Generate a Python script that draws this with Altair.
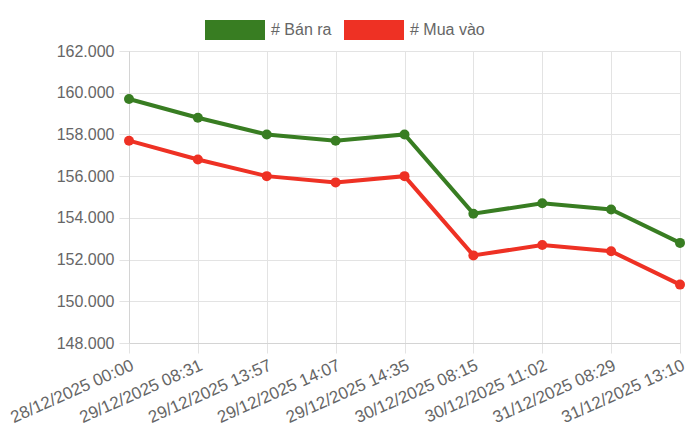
import altair as alt
import pandas as pd

times = ["28/12/2025 00:00", "29/12/2025 08:31", "29/12/2025 13:57", "29/12/2025 14:07",
         "29/12/2025 14:35", "30/12/2025 08:15", "30/12/2025 11:02", "31/12/2025 08:29",
         "31/12/2025 13:10"]
ban_ra = [159700, 158800, 158000, 157700, 158000, 154200, 154700, 154400, 152800]
mua_vao = [157700, 156800, 156000, 155700, 156000, 152200, 152700, 152400, 150800]
series = ["# Bán ra", "# Mua vào"]
colors = ["#387d22", "#ee3124"]
y_ticks = [148000, 150000, 152000, 154000, 156000, 158000, 160000, 162000]

rows = []
for i, t in enumerate(times):
    rows.append({"t": t, "s": series[0], "v": ban_ra[i], "o": i})
    rows.append({"t": t, "s": series[1], "v": mua_vao[i], "o": i})
df = pd.DataFrame(rows)

FONT = "Liberation Sans"
GRID = "#e3e3e3"

base = alt.Chart(df).encode(
    x=alt.X("t:N", sort=times, scale=alt.Scale(type="point", padding=0),
            axis=alt.Axis(title=None, labelAngle=336, labelFontSize=17, labelColor="#666666",
                          labelFont=FONT, grid=True, gridColor=GRID, tickColor=GRID,
                          tickSize=10, domainColor="#d4d4d4", labelPadding=4)),
    y=alt.Y("v:Q", scale=alt.Scale(domain=[148000, 162000], nice=False, zero=False),
            axis=alt.Axis(title=None, values=y_ticks, labelFontSize=16, labelColor="#666666",
                          labelFont=FONT, gridColor=GRID, tickColor=GRID, tickSize=10,
                          domainColor="#d4d4d4", labelPadding=5,
                          labelExpr="replace(format(datum.value, ',d'), ',', '.')")),
    color=alt.Color("s:N", sort=series, scale=alt.Scale(domain=series, range=colors),
                    legend=alt.Legend(title=None, orient="none", direction="horizontal",
                                      legendX=76, legendY=-51,
                                      symbolType="M-1,-0.3333H1V0.3333H-1Z",
                                      symbolSize=3600, symbolStrokeWidth=0,
                                      symbolOpacity=1,
                                      labelFontSize=16, labelColor="#666666", labelFont=FONT,
                                      labelOffset=6, columnPadding=12)),
    order="o:Q",
)

lines = base.mark_line(strokeWidth=4)
points = base.mark_circle(size=100, opacity=1)

chart = (lines + points).properties(
    width=551, height=292,
    padding={"left": 121, "top": 43, "right": 12, "bottom": 95},
    autosize="none",
).configure_view(stroke=None).configure(font=FONT)

chart.save("out.html", embed_options={"renderer": "svg", "actions": False})
